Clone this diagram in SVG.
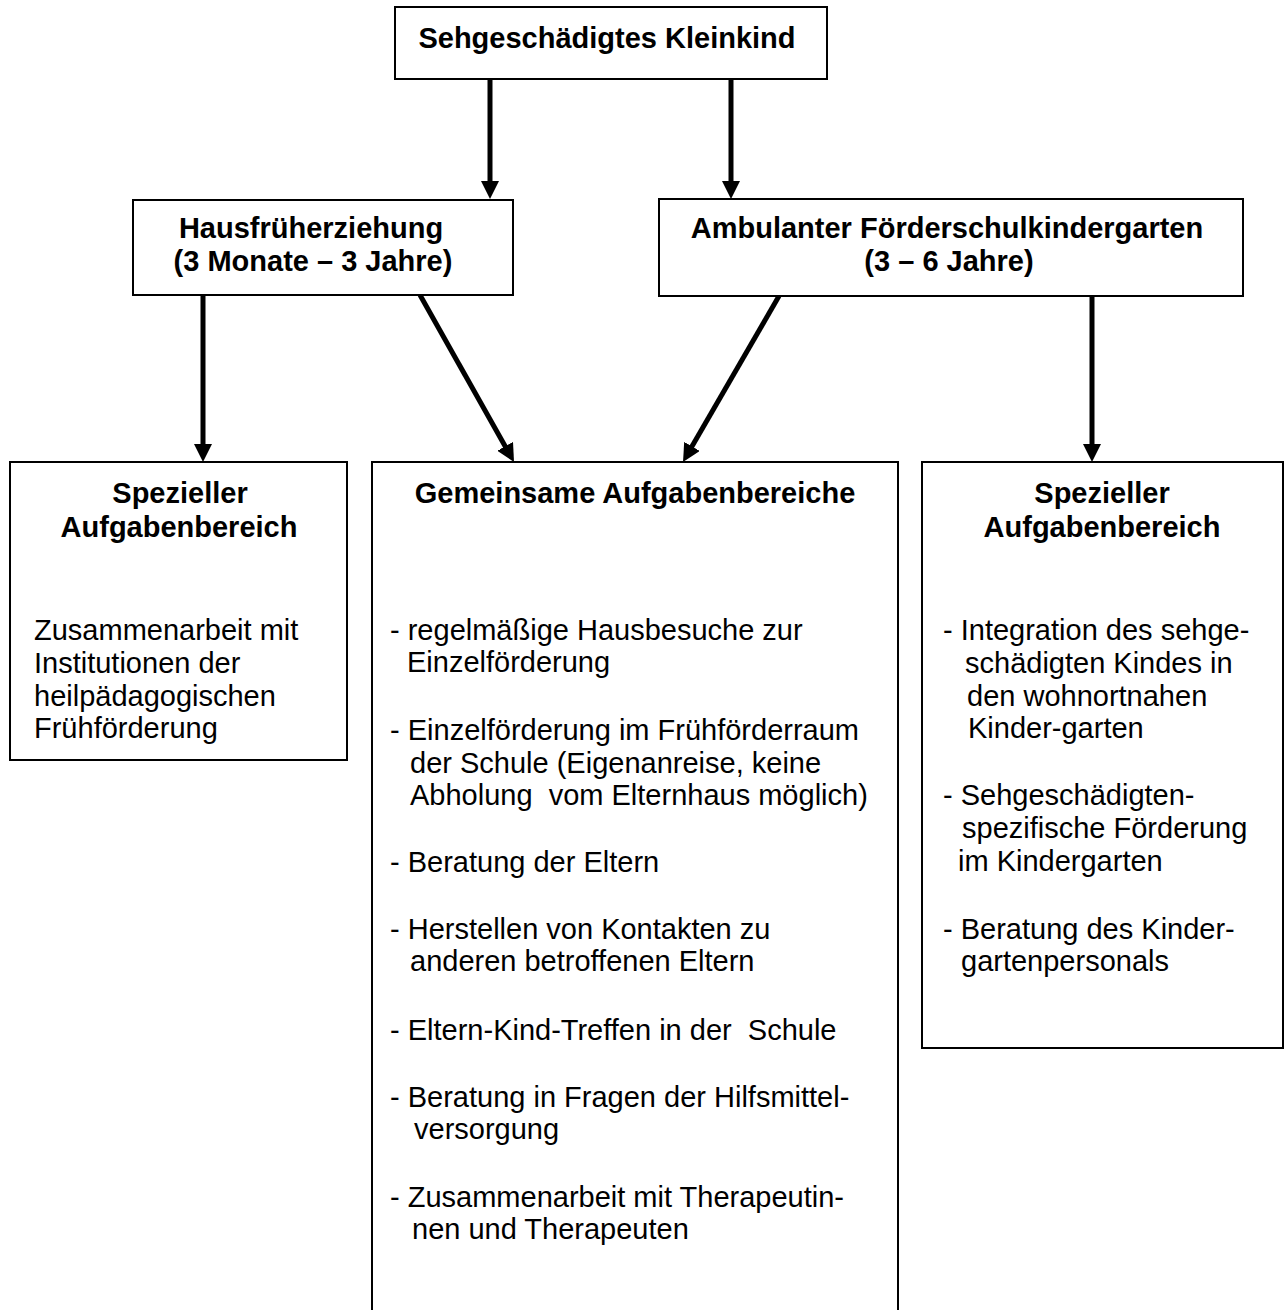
<svg xmlns="http://www.w3.org/2000/svg" width="1285" height="1310" viewBox="0 0 1285 1310">
<defs>
<style>
.box{fill:#fff;stroke:#000;stroke-width:2}
.t{font-family:"Liberation Sans",Arial,sans-serif;font-size:29px;fill:#000}
.b{font-weight:bold;text-anchor:middle}
.c{fill:none;stroke:#000;stroke-width:5}
</style>
<marker id="ah" markerUnits="userSpaceOnUse" markerWidth="18" markerHeight="18" refX="8" refY="9" orient="auto">
<path d="M0,0 L18,9 L0,18 Z" fill="#000"/>
</marker>
</defs>
<rect width="1285" height="1310" fill="#fff"/>
<g id="connectors">
<line class="c" x1="490" y1="79" x2="490" y2="189" marker-end="url(#ah)"/>
<line class="c" x1="731" y1="79" x2="731" y2="189" marker-end="url(#ah)"/>
<line class="c" x1="203" y1="295" x2="203" y2="452" marker-end="url(#ah)"/>
<line class="c" x1="1092" y1="296" x2="1092" y2="452" marker-end="url(#ah)"/>
<line class="c" x1="420" y1="295" x2="509.1" y2="453.3" marker-end="url(#ah)"/>
<line class="c" x1="779" y1="296" x2="688" y2="453.3" marker-end="url(#ah)"/>
</g>
<g id="kleinkind">
<rect class="box" x="395" y="7" width="432" height="72"/>
<text class="t b" x="607" y="48">Sehgeschädigtes Kleinkind</text>
</g>
<g id="hausfrueh">
<rect class="box" x="133" y="200" width="380" height="95"/>
<text class="t b" x="311" y="238">Hausfrüherziehung</text>
<text class="t b" x="313" y="271">(3 Monate – 3 Jahre)</text>
</g>
<g id="ambulant">
<rect class="box" x="659" y="199" width="584" height="97"/>
<text class="t b" x="947" y="238">Ambulanter Förderschulkindergarten</text>
<text class="t b" x="949" y="271">(3 – 6 Jahre)</text>
</g>
<g id="speziell-links">
<rect class="box" x="10" y="462" width="337" height="298"/>
<text class="t b" x="180" y="503">Spezieller</text>
<text class="t b" x="179" y="537">Aufgabenbereich</text>
<text class="t" x="34" y="640">Zusammenarbeit mit</text>
<text class="t" x="34" y="673">Institutionen der</text>
<text class="t" x="34" y="706">heilpädagogischen</text>
<text class="t" x="34" y="738">Frühförderung</text>
</g>
<g id="gemeinsam">
<rect class="box" x="372" y="462" width="526" height="860"/>
<text class="t b" x="635" y="503">Gemeinsame Aufgabenbereiche</text>
<text class="t" x="390" y="640">- regelmäßige Hausbesuche zur</text>
<text class="t" x="407" y="672">Einzelförderung</text>
<text class="t" x="390" y="740">- Einzelförderung im Frühförderraum</text>
<text class="t" x="410" y="773">der Schule (Eigenanreise, keine</text>
<text class="t" x="410" y="805" xml:space="preserve">Abholung  vom Elternhaus möglich)</text>
<text class="t" x="390" y="872">- Beratung der Eltern</text>
<text class="t" x="390" y="939">- Herstellen von Kontakten zu</text>
<text class="t" x="410" y="971">anderen betroffenen Eltern</text>
<text class="t" x="390" y="1040" xml:space="preserve">- Eltern-Kind-Treffen in der  Schule</text>
<text class="t" x="390" y="1107">- Beratung in Fragen der Hilfsmittel-</text>
<text class="t" x="414" y="1139">versorgung</text>
<text class="t" x="390" y="1207">- Zusammenarbeit mit Therapeutin-</text>
<text class="t" x="412" y="1239">nen und Therapeuten</text>
</g>
<g id="speziell-rechts">
<rect class="box" x="922" y="462" width="361" height="586"/>
<text class="t b" x="1102" y="503">Spezieller</text>
<text class="t b" x="1102" y="537">Aufgabenbereich</text>
<text class="t" x="943" y="640">- Integration des sehge-</text>
<text class="t" x="965" y="673">schädigten Kindes in</text>
<text class="t" x="967" y="706">den wohnortnahen</text>
<text class="t" x="968" y="738">Kinder-garten</text>
<text class="t" x="943" y="805">- Sehgeschädigten-</text>
<text class="t" x="962" y="838">spezifische Förderung</text>
<text class="t" x="958" y="871">im Kindergarten</text>
<text class="t" x="943" y="939">- Beratung des Kinder-</text>
<text class="t" x="961" y="971">gartenpersonals</text>
</g>
</svg>
